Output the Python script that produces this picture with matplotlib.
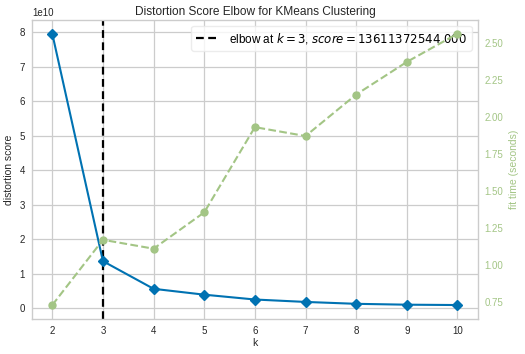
import matplotlib
matplotlib.use("Agg")
import matplotlib.pyplot as plt

k_values = [2, 3, 4, 5, 6, 7, 8, 9, 10]
distortion = [7.95e10, 1.3611372544e10, 0.56e10, 0.39e10, 0.25e10, 0.18e10, 0.125e10, 0.10e10, 0.09e10]
fit_times = [0.73, 1.17, 1.11, 1.355, 1.93, 1.87, 2.15, 2.37, 2.56]
elbow_k = 3
elbow_score = 13611372544.0

plt.rcParams['font.family'] = ['Liberation Sans', 'DejaVu Sans']
grid_c = '#cccccc'
text_c = '#262626'
blue = '#0072B2'
green = '#a3c585'

fig = plt.figure(figsize=(5.25, 3.54), dpi=100)
ax = fig.add_axes([0.061, 0.1, 0.849, 0.843])
ax.set_facecolor('white')
for s in ax.spines.values():
    s.set_color(grid_c)
    s.set_linewidth(1.0)
ax.grid(True, color=grid_c, linewidth=0.9)
ax.set_axisbelow(True)

ax.plot(k_values, distortion, color=blue, marker='D', markersize=5.5, linewidth=1.5, zorder=3)
ax.axvline(elbow_k, color='k', linestyle='--', linewidth=1.6, dashes=(3.5, 2),
           label=f"elbow at $k={elbow_k}$, $score={elbow_score:.3f}$")
ax.set_xlabel('k', fontsize=7.5, color=text_c, labelpad=2)
ax.set_ylabel('distortion score', fontsize=7.5, color=text_c, labelpad=4)
ax.set_title('Distortion Score Elbow for KMeans Clustering', fontsize=8.6, color=text_c, pad=4)
ax.tick_params(axis='both', labelsize=7, colors=text_c, length=0, pad=5)
ax.set_xticks(k_values)
ax.yaxis.get_offset_text().set_fontsize(7)
ax.yaxis.get_offset_text().set_color(text_c)
leg = ax.legend(loc='upper right', fontsize=8.5, frameon=True, framealpha=0.8,
                edgecolor='#e8e8e8', borderaxespad=0.5, handlelength=2.0)

ax2 = ax.twinx()
ax2.plot(k_values, fit_times, color=green, marker='o', markersize=5, linestyle='--', linewidth=1.5, zorder=2)
ax2.grid(False)
for s in ax2.spines.values():
    s.set_visible(False)
ax2.set_ylabel('fit time (seconds)', fontsize=7.5, color=green, labelpad=4)
ax2.tick_params(axis='y', labelsize=7, colors=green, length=0, pad=5)
fig.patch.set_facecolor('white')

fig.savefig('out.png', dpi=100, facecolor='white')
